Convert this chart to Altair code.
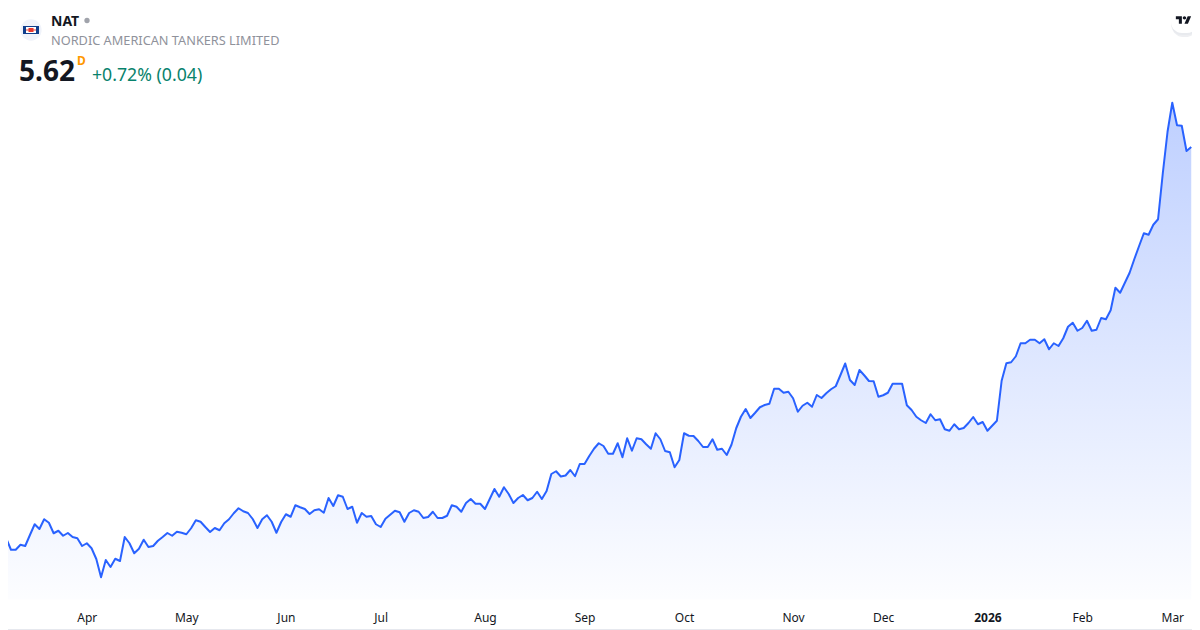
import altair as alt
import pandas as pd

# Daily close of NAT, one value per trading day from 2025-03-06 to 2026-03-06
prices = [
 2.508,2.490,2.398,2.398,2.438,2.428,2.516,2.602,2.564,2.642,2.614,2.530,2.550,2.510,2.532,2.500,2.490,2.428,
 2.450,2.410,2.324,2.178,2.316,2.260,2.326,2.308,2.500,2.450,2.370,2.406,2.478,2.420,2.428,2.470,2.500,2.532,2.510,2.542,2.534,
 2.522,2.570,2.634,2.622,2.580,2.540,2.572,2.554,2.610,2.642,2.690,2.730,2.706,2.692,2.644,2.572,2.642,2.674,2.622,2.534,2.620,
 2.682,2.662,2.754,2.738,2.724,2.684,2.714,2.722,2.694,2.812,2.748,2.834,2.822,2.724,2.742,2.614,2.692,2.662,2.668,2.602,
 2.580,2.646,2.678,2.710,2.698,2.622,2.692,2.714,2.702,2.652,2.660,2.702,2.652,2.652,2.670,2.754,2.742,2.702,2.772,2.804,2.766,2.766,
 2.724,2.804,2.884,2.822,2.898,2.844,2.772,2.812,2.836,2.794,2.812,2.862,2.804,2.868,3.004,3.026,2.984,2.992,3.036,2.986,3.084,
 3.084,3.148,3.206,3.250,3.228,3.166,3.166,3.250,3.138,3.290,3.190,3.290,3.282,3.242,3.206,3.330,3.282,3.188,3.178,3.058,3.116,
 3.330,3.310,3.308,3.268,3.220,3.220,3.282,3.198,3.206,3.156,3.238,3.370,3.462,3.524,3.452,3.494,3.538,3.556,3.566,3.686,3.686,3.654,3.662,
 3.610,3.502,3.550,3.574,3.542,3.636,3.612,3.650,3.682,3.706,3.796,3.888,3.756,3.716,3.836,3.794,3.748,3.746,3.622,3.634,
 3.654,3.726,3.726,3.726,3.554,3.516,3.462,3.434,3.412,3.482,3.434,3.442,3.362,3.350,3.402,3.362,3.372,3.412,3.460,3.402,3.420,3.350,
 3.390,3.430,3.750,3.890,3.898,3.946,4.050,4.050,4.078,4.078,4.050,4.082,4.002,4.050,4.028,4.090,4.182,4.214,4.150,4.172,
 4.230,4.150,4.158,4.252,4.242,4.314,4.494,4.454,4.534,4.614,4.724,4.828,4.930,4.918,4.998,5.042,5.410,5.742,5.974,5.794,5.790,5.588,5.620,
]
month_labels = ["Apr", "May", "Jun", "Jul", "Aug", "Sep", "Oct", "Nov", "Dec", "2026", "Feb", "Mar"]
month_index = [18, 39, 60, 80, 102, 123, 144, 167, 186, 208, 228, 247]
year_tick = 208
baseline_price = 2.0

ticker = "NAT"
company = "NORDIC AMERICAN TANKERS LIMITED"
last_price = "5.62"
interval = "D"
change = "+0.72% (0.04)"

LINE = "#2962FF"
INK = "#131722"
W, H = 1184, 622

df = pd.DataFrame({"i": range(len(prices)), "price": prices, "base": baseline_price})

xs = alt.Scale(domain=[1.371, 251.16], nice=False, zero=False)
ys = alt.Scale(domain=[1.756, 6.732], nice=False, zero=False)

label_expr = "[" + ",".join(f"'{m}'" for m in month_labels) + "][indexof([" + ",".join(map(str, month_index)) + "],datum.value)]"

area = alt.Chart(df).mark_area(
    clip=False,
    fill=alt.Gradient(
        gradient="linear", x1=0, x2=0, y1=0, y2=1,
        stops=[alt.GradientStop(color="rgba(41,98,255,0.30)", offset=0),
               alt.GradientStop(color="rgba(41,98,255,0.012)", offset=1)],
    ),
).encode(
    x=alt.X("i:Q", scale=xs, axis=alt.Axis(
        values=month_index, labelExpr=label_expr, domain=False, ticks=False, grid=False, title=None,
        labelFontSize=12, labelColor=INK, labelFont="Noto Sans", labelPadding=0, offset=-18,
        labelBaseline="top", labelFlush=False, labelOverlap=False, labelBound=False,
        labelFontWeight={"condition": {"test": f"datum.value == {year_tick}", "value": "bold"}, "value": "normal"},
    )),
    y=alt.Y("price:Q", scale=ys, axis=None),
    y2="base:Q",
)
line = alt.Chart(df).mark_line(color=LINE, strokeWidth=2, clip=False, strokeJoin="round").encode(
    x=alt.X("i:Q", scale=xs), y=alt.Y("price:Q", scale=ys)
)


def one():
    return alt.Chart(pd.DataFrame({"k": [0]}))


def text(s, x, y, size, color, weight="normal"):
    return one().mark_text(text=s, align="left", baseline="alphabetic", font="Noto Sans", fontSize=size,
                           color=color, fontWeight=weight).encode(x=alt.value(x - 8), y=alt.value(y - 8))


def box(x0, x1, y0, y1, color, **kw):
    return one().mark_rect(color=color, **kw).encode(
        x=alt.value(x0 - 8), x2=alt.value(x1 - 8), y=alt.value(y0 - 8), y2=alt.value(y1 - 8))


def dot(x, y, size, color):
    return one().mark_point(filled=True, shape="circle", size=size, color=color, opacity=1).encode(
        x=alt.value(x - 8), y=alt.value(y - 8))


tv_shape = ("M-0.222 0.5H-0.611V-0.111H-1V-0.5H-0.222Z"
            "M0.556 0.5H0.111L0.528 -0.5H0.972Z"
            "M-0.111 -0.278a0.222 0.222 0 1 0 0.444 0a0.222 0.222 0 1 0 -0.444 0Z")

layers = [
    area, line,
    dot(31, 30, 452, "#F0F3FA"),
    box(23, 39, 26, 34, "#0F3E8C"),
    box(26, 36, 27, 33, "#FFFFFF"),
    box(26, 36, 29, 31, "#F2A09A"),
    box(28.5, 33.5, 28, 32, "#E8382F"),
    text(ticker, 51, 26, 14, INK, "bold"),
    dot(87, 20.5, 28, "#A0A3AB"),
    text(company, 51, 45, 12.75, "#8F929B"),
    text(last_price, 19, 81, 28, INK, "bold"),
    text(interval, 77, 65, 12, "#FF9800", "bold"),
    text(change, 92, 81, 17.7, "#08826C"),
    box(1172, 1197, 13, 37, "#D9DBE2", cornerRadius=11, opacity=0.45),
    box(1171, 1198, 11, 35, "#E6E8EC", cornerRadius=11, opacity=0.7),
    box(1171, 1198, 10, 33, "#FFFFFF", cornerRadius=11),
    one().mark_point(filled=True, shape=tv_shape, size=240, color=INK, opacity=1).encode(
        x=alt.value(1183.6 - 8), y=alt.value(20 - 8)),
    box(8, 1192, 629, 630, "#E6E8EE"),
]

chart = alt.layer(*layers).properties(
    width=W, height=H, padding=0, autosize=alt.AutoSizeParams(type="none"), background="white"
).configure_view(stroke=None)

chart.save("out.html", embed_options={"renderer": "svg", "actions": False})
